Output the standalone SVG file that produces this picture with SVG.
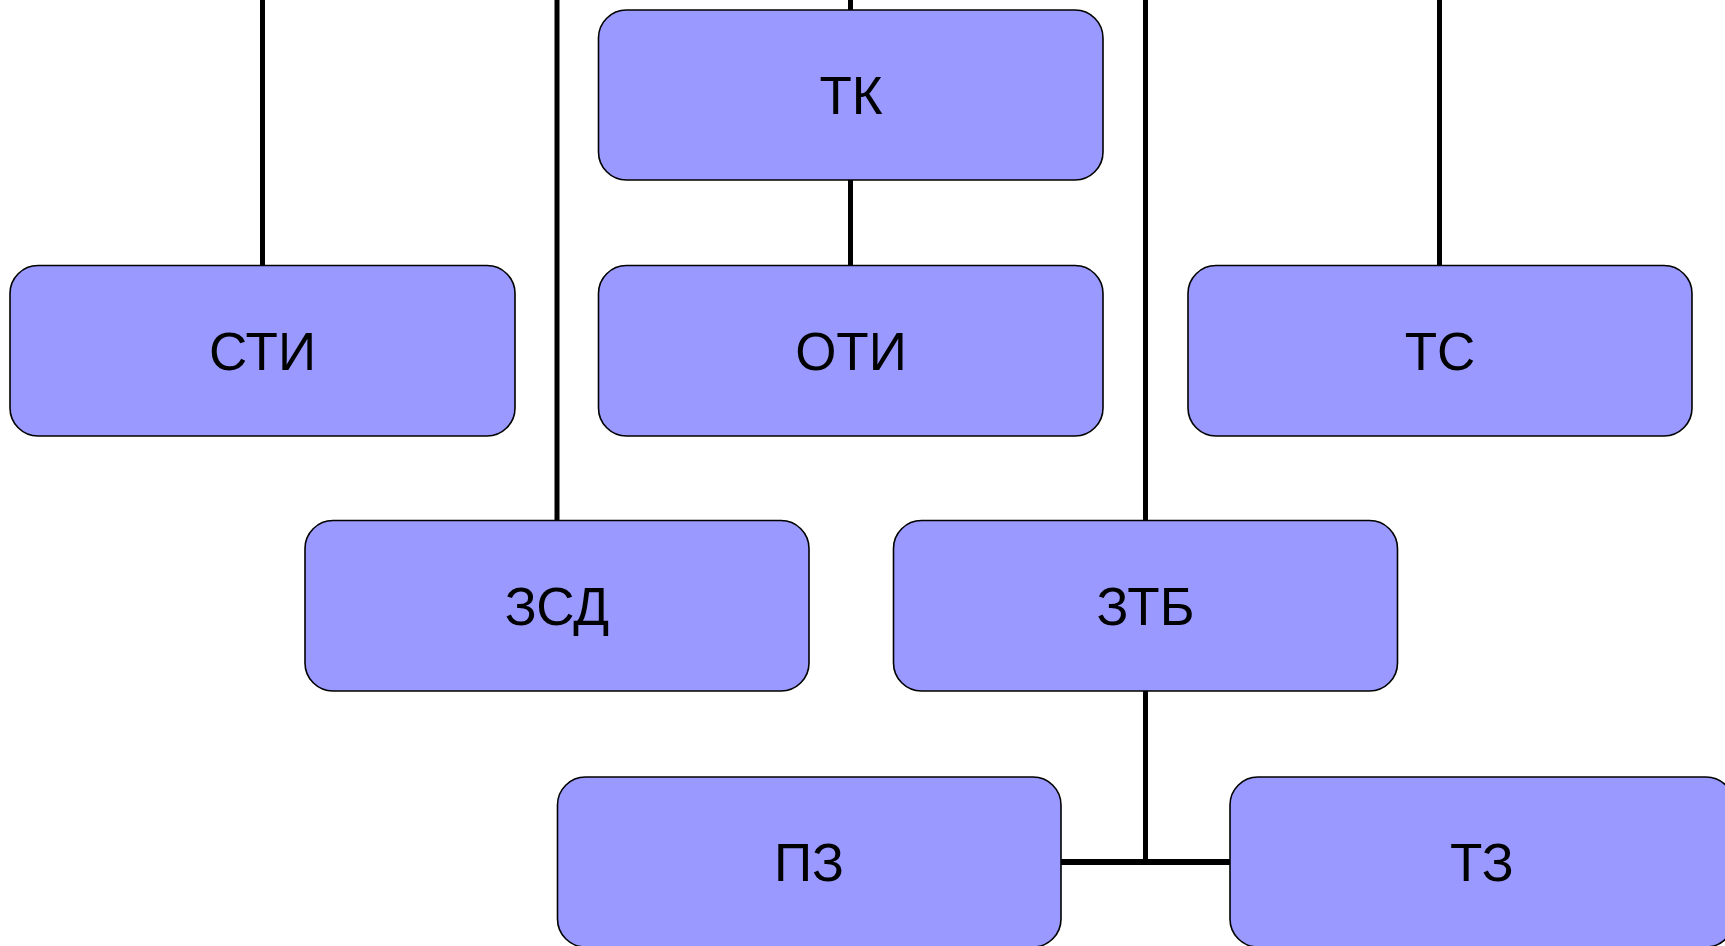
<svg xmlns="http://www.w3.org/2000/svg" width="1725" height="946" viewBox="0 0 1725 946">
<style>
.box{fill:#9999FF;stroke:#000;stroke-width:1.6}
.lbl{font-family:"Liberation Sans",Arial,sans-serif;font-size:53px;fill:#000;text-anchor:middle}
.ln{stroke:#000;stroke-width:5;fill:none}
</style>
<rect width="1725" height="946" fill="#fff"/>
<g id="connectors">
<line class="ln" x1="262.5" y1="0" x2="262.5" y2="266"/>
<line class="ln" x1="557" y1="0" x2="557" y2="521"/>
<line class="ln" x1="850.5" y1="0" x2="850.5" y2="11"/>
<line class="ln" x1="850.5" y1="180" x2="850.5" y2="266"/>
<line class="ln" x1="1145.5" y1="0" x2="1145.5" y2="521"/>
<line class="ln" x1="1145.5" y1="691" x2="1145.5" y2="862"/>
<line class="ln" x1="1439.5" y1="0" x2="1439.5" y2="266"/>
<line class="ln" x1="1060" y1="862" x2="1231" y2="862" style="stroke-width:6"/>
</g>
<g id="node-tk"><rect class="box" x="598.5" y="10" width="504.5" height="170" rx="28"/><text class="lbl" x="851" y="114">ТК</text></g>
<g id="node-sti"><rect class="box" x="10" y="265.5" width="505" height="170.5" rx="28"/><text class="lbl" x="262.5" y="369.5">СТИ</text></g>
<g id="node-oti"><rect class="box" x="598.5" y="265.5" width="504.5" height="170.5" rx="28"/><text class="lbl" x="851" y="369.5">ОТИ</text></g>
<g id="node-ts"><rect class="box" x="1188" y="265.5" width="504" height="170.5" rx="28"/><text class="lbl" x="1440" y="369.5">ТС</text></g>
<g id="node-zsd"><rect class="box" x="305" y="520.5" width="504" height="170.5" rx="28"/><text class="lbl" x="557" y="624.5">ЗСД</text></g>
<g id="node-ztb"><rect class="box" x="893.5" y="520.5" width="504" height="170.5" rx="28"/><text class="lbl" x="1145.5" y="624.5">ЗТБ</text></g>
<g id="node-pz"><rect class="box" x="557.5" y="777" width="503.5" height="170" rx="28"/><text class="lbl" x="809" y="881">ПЗ</text></g>
<g id="node-tz"><rect class="box" x="1230" y="777" width="504" height="170" rx="28"/><text class="lbl" x="1482" y="881">ТЗ</text></g>
</svg>
